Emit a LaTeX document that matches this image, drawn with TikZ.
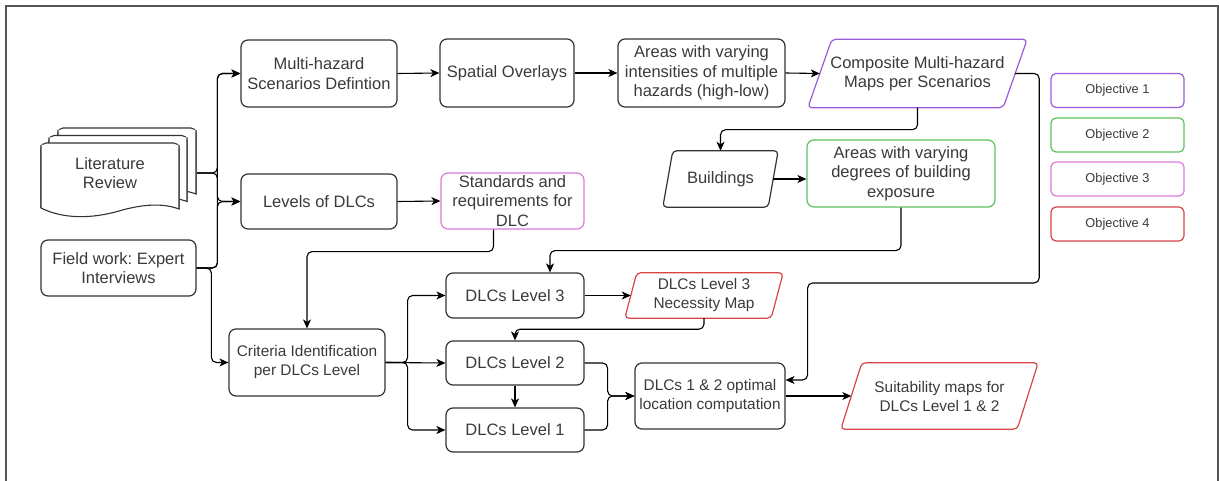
\documentclass[tikz,border=0pt]{standalone}
\usepackage{fontspec}
\setmainfont{Liberation Sans}
\usetikzlibrary{arrows.meta,calc}
\frenchspacing

\definecolor{ink}{HTML}{333333}
\definecolor{txt}{HTML}{3A3A3A}
\definecolor{frame}{HTML}{555555}
\definecolor{objpurple}{HTML}{9A5BDB}
\definecolor{objgreen}{HTML}{5CC15C}
\definecolor{objpink}{HTML}{DA7ADA}
\definecolor{objred}{HTML}{D64545}

\newcommand\FontA{\fontsize{16.5}{19.5}\selectfont}
\newcommand\FontB{\fontsize{15.4}{19}\selectfont}
\newcommand\FontC{\fontsize{12.8}{15}\selectfont}

% outline of a parallelogram around a (borderless) node: node, slant, colour
\newcommand\paraoutline[3]{%
  \draw[#3, line width=1.2pt, rounded corners=4pt]
    (#1.south west) -- ($(#1.north west)+(#2,0)$) -- (#1.north east)
    -- ($(#1.south east)-(#2,0)$) -- cycle;}

% one sheet of a document stack, top-left corner at (#1,#2)
\newcommand\docsheet[2]{%
  \draw[ink, line width=1.1pt, fill=white, rounded corners=5pt]
    (#1,#2+65) -- (#1,#2) -- (#1+138,#2) -- (#1+138,#2+66);
  \fill[white] (#1,#2+3) rectangle (#1+138,#2+64);
  \draw[ink, line width=1.1pt, fill=white]
    (#1,#2+2) -- (#1,#2+65)
    .. controls (#1+22,#2+76) and (#1+50,#2+76) .. (#1+78,#2+68)
    .. controls (#1+102,#2+61) and (#1+122,#2+60) .. (#1+138,#2+66)
    -- (#1+138,#2+2);}

\begin{document}
\begin{tikzpicture}[x=1pt, y=-1pt,
  box/.style={draw=ink, line width=1.2pt, rounded corners=7pt, align=center,
    text=txt, font=\FontA, inner sep=0pt},
  pbox/.style={draw=none, align=center, text=txt, font=\FontA, inner sep=0pt},
  objbox/.style={draw=#1, line width=1.2pt, rounded corners=5pt, align=center,
    text=txt, font=\FontC, inner sep=0pt, minimum width=133pt, minimum height=34pt},
  conn/.style={draw=black, line width=1.1pt, rounded corners=5pt,
    -{Stealth[length=9pt, width=8pt, inset=2.5pt]}}]

\useasboundingbox (0,0) rectangle (1219,481);
\clip (0,0) rectangle (1219,481);

% frame
\draw[frame, line width=1.6pt] (6,495) -- (6,6) -- (1218,6) -- (1218,495);

% document stack
\docsheet{58}{128}
\docsheet{49}{135.5}
\docsheet{41}{143}
\node[pbox, minimum width=138pt, minimum height=66pt] (lit) at (110,173) {Literature\\Review};

% first column
\node[box, minimum width=155pt, minimum height=56pt] (field) at (118.5,268) {Field work: Expert\\Interviews};

% top row
\node[box, minimum width=156pt, minimum height=67pt] (multi) at (319,73.5) {Multi-hazard\\Scenarios Defintion};
\node[box, minimum width=134pt, minimum height=68pt] (spatial) at (507,73) {Spatial Overlays};
\node[box, minimum width=167pt, minimum height=68pt] (areas) at (701.5,73) {Areas with varying\\intensities of multiple\\hazards (high-low)};
\node[pbox, minimum width=219pt, minimum height=68pt] (comp) at (917.5,73.5) {Composite Multi-hazard\\Maps per Scenarios};
\paraoutline{comp}{24}{objpurple}

% second row
\node[box, minimum width=156pt, minimum height=55pt] (levels) at (319,201.5) {Levels of DLCs};
\node[box, draw=objpink, minimum width=143pt, minimum height=56pt] (stand) at (512.5,201) {Standards and\\requirements for\\DLC};
\node[pbox, minimum width=115pt, minimum height=56pt] (build) at (720.5,179) {Buildings};
\paraoutline{build}{10}{ink}
\node[box, draw=objgreen, minimum width=188pt, minimum height=67pt] (expo) at (901,173.5) {Areas with varying\\degrees of building\\exposure};

% lower part
\node[box, font=\FontB, minimum width=156pt, minimum height=67pt] (crit) at (307,362.5) {Criteria Identification\\per DLCs Level};
\node[box, minimum width=138pt, minimum height=45pt] (l3) at (515,295.5) {DLCs Level 3};
\node[box, minimum width=138pt, minimum height=44pt] (l2) at (515,363) {DLCs Level 2};
\node[box, minimum width=138pt, minimum height=44pt] (l1) at (515,430) {DLCs Level 1};
\node[pbox, font=\FontB, minimum width=158pt, minimum height=45pt] (nec) at (704,295.5) {DLCs Level 3\\Necessity Map};
\paraoutline{nec}{12}{objred}
\node[box, font=\FontB, minimum width=150pt, minimum height=66pt] (comp12) at (710,396) {DLCs 1 \& 2 optimal\\location computation};
\node[pbox, font=\FontB, minimum width=197pt, minimum height=66pt] (suit) at (939.5,396) {Suitability maps for\\DLCs Level 1 \& 2};
\paraoutline{suit}{21}{objred}

% legend
\node[objbox=objpurple] (o1) at (1117.5,90.5) {Objective 1};
\node[objbox=objgreen]  (o2) at (1117.5,135) {Objective 2};
\node[objbox=objpink]   (o3) at (1117.5,179) {Objective 3};
\node[objbox=objred]    (o4) at (1117.5,224) {Objective 4};

% connectors from the inputs
\draw[conn] ($(lit.east)+(18,0)$) -| ($(multi.west)+(-23,0)$) -- (multi.west);
\draw[conn] ($(lit.east)+(18,0)$) -| ($(levels.west)+(-23,0)$) -- (levels.west);
\draw[conn] (field.east) -| ($(multi.west)+(-23,0)$) -- (multi.west);
\draw[conn] (field.east) -| ($(levels.west)+(-23,0)$) -- (levels.west);
\draw[conn] (field.east) -| ($(crit.west)+(-17,0)$) -- (crit.west);

% hazard chain
\draw[conn] (multi.east) -- (spatial.west);
\draw[conn] (spatial.east) -- (areas.west);
\draw[conn] (areas.east) -- ($(comp.west)+(12,0)$);
\draw[conn] (comp.south) -- ++(0,22) -| (build.north);
\draw[conn] ($(build.east)+(-5,0)$) -- (build.east -| expo.west);
\draw[conn] (expo.south) -- ++(0,43) -| ($(l3.north)+(35,0)$);
\draw[conn] ($(comp.east)+(-12,0)$) -| ($(comp.east)+(12,209.5)$)
  -| ($(comp12.east)+(22,-16)$) -- ($(comp12.east)+(0,-16)$);

% DLC levels
\draw[conn] (levels.east) -- (stand.west);
\draw[conn] ($(stand.south)+(-19,0)$) -- ++(0,22) -| (crit.north);
\draw[conn] (crit.east) -- ++(22,0) |- (l3.west);
\draw[conn] (crit.east) -- (l2.west);
\draw[conn] (crit.east) -- ++(22,0) |- (l1.west);
\draw[conn] (l3.east) -- ($(nec.west)+(6,0)$);
\draw[conn] (nec.south) -- ++(0,11) -| (l2.north);
\draw[conn] (l2.south) -- (l1.north);
\draw[conn] (l2.east) -- ++(23,0) |- (comp12.west);
\draw[conn] (l1.east) -- ++(23,0) |- (comp12.west);
\draw[conn] (comp12.east) -- ($(suit.west)+(10.5,0)$);

\end{tikzpicture}
\end{document}
